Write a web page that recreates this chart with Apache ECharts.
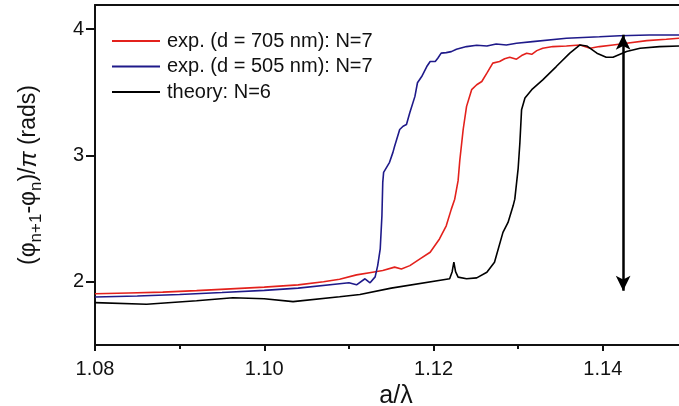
<!DOCTYPE html>
<html>
<head>
<meta charset="utf-8">
<script src="https://cdn.jsdelivr.net/npm/echarts@6/dist/echarts.min.js"></script>
<style>
  html, body { margin: 0; padding: 0; background: #fff; }
  #chart { width: 679px; height: 406px; }
</style>
</head>
<body>
<div id="chart"></div>
<script>
const redX = [1.0800, 1.0840, 1.0880, 1.0920, 1.0960, 1.1000, 1.1040, 1.1070, 1.1089, 1.1109, 1.1128, 1.1140,
  1.1154, 1.1162, 1.1172, 1.1184, 1.1196, 1.1207, 1.1215, 1.1221, 1.1225, 1.1229, 1.1231, 1.1235, 1.1239,
  1.1245, 1.1251, 1.1257, 1.1263, 1.1270, 1.1278, 1.1284, 1.1290, 1.1298, 1.1304, 1.1310, 1.1316, 1.1322,
  1.1329, 1.1341, 1.1357, 1.1373, 1.1385, 1.1396, 1.1412, 1.1428, 1.1452, 1.1475, 1.1490];
const redY = [1.906, 1.912, 1.918, 1.930, 1.944, 1.958, 1.976, 2.000, 2.020, 2.055, 2.076, 2.089,
  2.116, 2.102, 2.128, 2.181, 2.234, 2.339, 2.443, 2.575, 2.654, 2.800, 2.960, 3.205, 3.388,
  3.520, 3.559, 3.585, 3.651, 3.730, 3.743, 3.765, 3.777, 3.761, 3.790, 3.809, 3.800, 3.829,
  3.848, 3.861, 3.866, 3.874, 3.848, 3.861, 3.874, 3.887, 3.908, 3.919, 3.927];

const blueX = [1.0800, 1.0850, 1.0900, 1.0950, 1.1000, 1.1040, 1.1089, 1.1100, 1.1109, 1.1119, 1.1125,
  1.1131, 1.1134, 1.1137, 1.1139, 1.1140, 1.1141, 1.1148, 1.1152, 1.1154, 1.1160, 1.1164, 1.1168, 1.1172,
  1.1178, 1.1181, 1.1186, 1.1192, 1.1196, 1.1202, 1.1205, 1.1209, 1.1215, 1.1221, 1.1227, 1.1239, 1.1251,
  1.1263, 1.1274, 1.1286, 1.1298, 1.1317, 1.1357, 1.1396, 1.1420, 1.1455, 1.1490];
const blueY = [1.880, 1.888, 1.900, 1.915, 1.932, 1.950, 1.985, 1.992, 1.976, 2.024, 1.992,
  2.039, 2.128, 2.260, 2.522, 2.787, 2.866, 2.945, 3.024, 3.073, 3.205, 3.231, 3.244, 3.339,
  3.467, 3.575, 3.624, 3.703, 3.743, 3.743, 3.769, 3.809, 3.813, 3.821, 3.840, 3.861, 3.872,
  3.866, 3.882, 3.874, 3.887, 3.900, 3.927, 3.939, 3.947, 3.953, 3.953];

const theoryX = [1.0800, 1.0861, 1.0920, 1.0963, 1.1000, 1.1034, 1.1089, 1.1113, 1.1150, 1.1219, 1.1222,
  1.1224, 1.1226, 1.1229, 1.1239, 1.1251, 1.1263, 1.1272, 1.1282, 1.1288, 1.1294, 1.1296, 1.1300, 1.1302,
  1.1304, 1.1308, 1.1316, 1.1329, 1.1345, 1.1361, 1.1373, 1.1381, 1.1393, 1.1404, 1.1412, 1.1428, 1.1444,
  1.1467, 1.1490];
const theoryY = [1.835, 1.822, 1.850, 1.874, 1.866, 1.843, 1.882, 1.900, 1.950, 2.024, 2.080,
  2.155, 2.080, 2.037, 2.024, 2.031, 2.076, 2.155, 2.391, 2.470, 2.601, 2.654, 2.900, 3.100,
  3.362, 3.454, 3.520, 3.598, 3.703, 3.809, 3.874, 3.866, 3.809, 3.777, 3.777, 3.822, 3.848,
  3.861, 3.866];

const seriesNames = ['exp. (d = 705 nm): N=7', 'exp. (d = 505 nm): N=7', 'theory: N=6'];
const seriesColors = ['#e3211c', '#1f1a8a', '#000000'];

const xTicks = [1.08, 1.10, 1.12, 1.14];
const xMinorTicks = [1.09, 1.11, 1.13];
const yTicks = [2, 3, 4];
const yMinorTicks = [1.5, 2.5, 3.5];

// double-headed arrow marker
const arrowX = 1.1424;
const arrowY = [1.93, 3.955];

const zip = (xs, ys) => xs.map((x, i) => [x, ys[i]]);
const font = 'Liberation Sans, Arial, sans-serif';

const chart = echarts.init(document.getElementById('chart'));

const axisLine = { show: true, onZero: false, lineStyle: { color: '#111', width: 2 } };

chart.setOption({
  animation: false,
  backgroundColor: '#fff',
  textStyle: { fontFamily: font },
  grid: { left: 95, top: 5, right: 0, bottom: 61, containLabel: false, outerBoundsMode: 'none' },
  legend: {
    orient: 'vertical',
    left: 107,
    top: 26,
    icon: 'rect',
    itemWidth: 48,
    itemHeight: 2,
    itemGap: 5.5,
    textStyle: { fontSize: 20, color: '#111', fontFamily: font, padding: [0, 0, 0, 2] },
    data: seriesNames
  },
  xAxis: [
    {
      type: 'value', min: 1.08, max: 1.149,
      axisLine: axisLine,
      axisTick: { show: true, customValues: xTicks, length: 6, lineStyle: { color: '#111', width: 2 } },
      axisLabel: { customValues: xTicks, formatter: v => v.toFixed(2), fontSize: 20, color: '#111', margin: 14, fontFamily: font },
      splitLine: { show: false },
      name: 'a/λ', nameLocation: 'middle', nameGap: 38,
      nameTextStyle: { fontSize: 25, color: '#111', fontFamily: font, padding: [0, 0, 0, 18] }
    },
    {
      type: 'value', min: 1.08, max: 1.149, position: 'bottom',
      axisLine: { show: false },
      axisTick: { show: true, customValues: xMinorTicks, length: 4, lineStyle: { color: '#111', width: 2 } },
      axisLabel: { show: false },
      splitLine: { show: false }
    },
    {
      type: 'value', min: 1.08, max: 1.149, position: 'top',
      axisLine: axisLine,
      axisTick: { show: false }, axisLabel: { show: false }, splitLine: { show: false }
    }
  ],
  yAxis: [
    {
      type: 'value', min: 1.5, max: 4.19,
      axisLine: axisLine,
      axisTick: { show: true, customValues: yTicks, length: 9, lineStyle: { color: '#111', width: 2 } },
      axisLabel: { customValues: yTicks, fontSize: 20, color: '#111', margin: 11, fontFamily: font },
      splitLine: { show: false },
      name: '{a|(φ}{s|n+1}{a|-φ}{s|n}{a|)/}{p|π}{a| (rads)}',
      nameLocation: 'middle', nameGap: 50,
      nameTextStyle: {
        color: '#111',
        rich: {
          a: { fontSize: 23, lineHeight: 32, fontFamily: font, color: '#111' },
          p: { fontSize: 24, lineHeight: 32, fontFamily: font, fontStyle: 'italic', color: '#111' },
          s: { fontSize: 17, lineHeight: 17, verticalAlign: 'bottom', fontFamily: font, color: '#111' }
        }
      }
    },
    {
      type: 'value', min: 1.5, max: 4.19,
      axisLine: { show: false },
      axisTick: { show: true, customValues: yMinorTicks, length: 5, lineStyle: { color: '#111', width: 2 } },
      axisLabel: { show: false },
      splitLine: { show: false }
    }
  ],
  series: [
    {
      name: seriesNames[0], type: 'line', data: zip(redX, redY), showSymbol: false, symbol: 'none',
      lineStyle: { color: seriesColors[0], width: 1.6 }, itemStyle: { color: seriesColors[0] }
    },
    {
      name: seriesNames[1], type: 'line', data: zip(blueX, blueY), showSymbol: false, symbol: 'none',
      lineStyle: { color: seriesColors[1], width: 1.6 }, itemStyle: { color: seriesColors[1] }
    },
    {
      name: seriesNames[2], type: 'line', data: zip(theoryX, theoryY), showSymbol: false, symbol: 'none',
      lineStyle: { color: seriesColors[2], width: 1.6 }, itemStyle: { color: seriesColors[2] },
      markLine: {
        silent: true,
        symbol: ['arrow', 'arrow'],
        symbolSize: [11, 15],
        label: { show: false },
        lineStyle: { color: '#000', width: 2.5, type: 'solid' },
        data: [[{ coord: [arrowX, arrowY[0]] }, { coord: [arrowX, arrowY[1]] }]]
      }
    }
  ]
});
</script>
</body>
</html>
